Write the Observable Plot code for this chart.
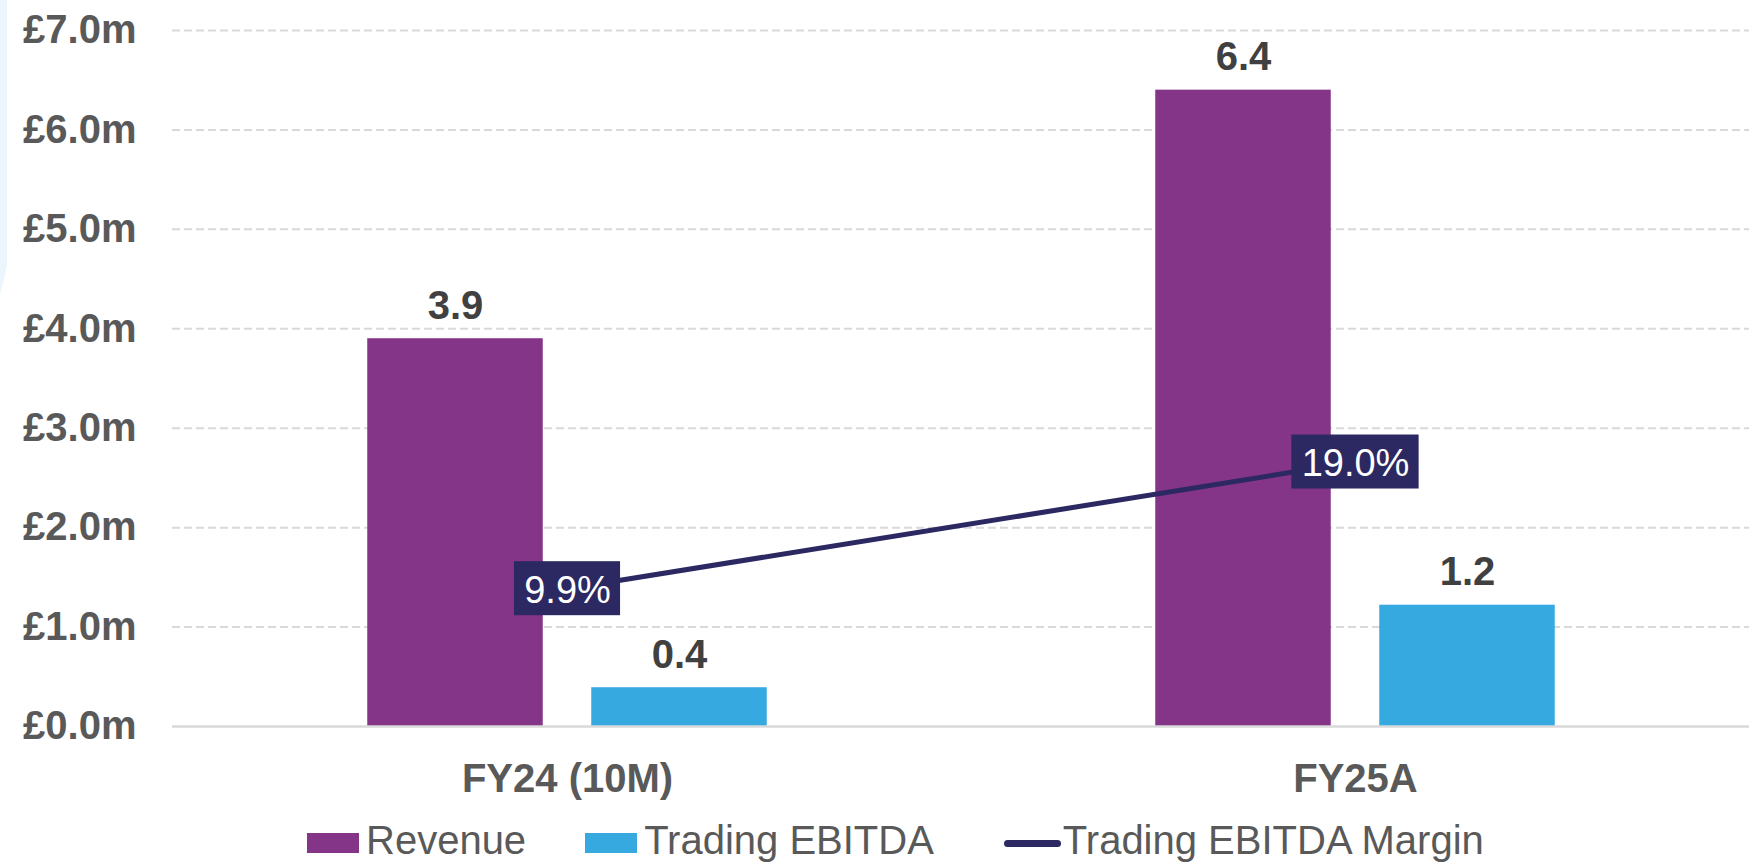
<!DOCTYPE html>
<html>
<head>
<meta charset="utf-8">
<script src="https://cdn.jsdelivr.net/npm/d3@7"></script>
<script src="https://cdn.jsdelivr.net/npm/@observablehq/plot@0.6"></script>
<style>
  html, body { margin: 0; padding: 0; background: #fff; }
  body { width: 1749px; height: 864px; overflow: hidden; position: relative; font-family: "Liberation Sans", Arial, sans-serif; }
  #deco { position: absolute; left: 0; top: 0; width: 7px; height: 295px; background: #EAF6FC; clip-path: polygon(0 0, 100% 0, 100% 90%, 0 100%); z-index: 2; }
  #chart { position: absolute; left: 0; top: 0; }
  #legend { position: absolute; left: 307px; top: 810px; height: 66px; display: flex; align-items: center; color: #595959; font-size: 40px; line-height: 1; white-space: nowrap; }
  .sw { width: 52px; height: 20px; margin-right: 7px; }
  .ln { width: 57px; height: 7px; border-radius: 4px; margin-right: 2px; }
  .lab { position: relative; top: -3px; }
</style>
</head>
<body>
<div id="deco"></div>
<div id="chart"></div>
<div id="legend"></div>
<script>
// ---- data ----
const categories = ["FY24 (10M)", "FY25A"];
const revenue = [3.9, 6.4];
const tradingEbitda = [0.39, 1.22];
const ebitdaMargin = [9.9, 19.0];          // percent, secondary axis
const yTicks = [0, 1, 2, 3, 4, 5, 6, 7];
const secondaryMax = 50;                   // hidden secondary axis 0%–50%
const seriesNames = ["Revenue", "Trading EBITDA", "Trading EBITDA Margin"];
const colors = {rev: "#843587", ebitda: "#36A9E1", margin: "#2B2862"};

// ---- layout ----
const W = 1749, H = 810, mL = 172, mR = 0, mT = 30, mB = 84;
const band = (W - mL - mR) / categories.length;
const barW = 176, gap = 48;
const c = band / 2;
const primaryMax = 7;

const revRows = categories.map((k, i) => ({category: k, value: revenue[i]}));
const ebRows = categories.map((k, i) => ({category: k, value: tradingEbitda[i]}));
const mRows = categories.map((k, i) => ({category: k, margin: ebitdaMargin[i], v: ebitdaMargin[i] * primaryMax / secondaryMax}));

const fmt1 = d3.format(".1f");
const labelFont = "38px 'Liberation Sans', Arial, sans-serif";
const ctx = document.createElement("canvas").getContext("2d");
ctx.font = labelFont;

const boxMarks = mRows.map(r => {
  const t = fmt1(r.margin) + "%";
  const bw = ctx.measureText(t).width + 20;
  const ins = (band - bw) / 2;
  return Plot.barY([r], {x: "category", y1: "v", y2: "v", insetTop: -27, insetBottom: -27,
    insetLeft: ins, insetRight: ins, fill: colors.margin});
});

const chart = Plot.plot({
  width: W, height: H,
  marginLeft: mL, marginRight: mR, marginTop: mT, marginBottom: mB,
  style: {fontFamily: "'Liberation Sans', Arial, sans-serif", background: "transparent", overflow: "visible"},
  x: {type: "band", domain: categories, padding: 0, label: null},
  y: {domain: [0, primaryMax], label: null},
  marks: [
    Plot.ruleY(yTicks.filter(d => d > 0), {stroke: "#D9D9D9", strokeWidth: 2, strokeDasharray: "8,4"}),
    Plot.barY(revRows, {x: "category", y: "value", fill: colors.rev,
      insetLeft: c - gap / 2 - barW, insetRight: c + gap / 2}),
    Plot.barY(ebRows, {x: "category", y: "value", fill: colors.ebitda,
      insetLeft: c + gap / 2, insetRight: band - (c + gap / 2 + barW)}),
    Plot.ruleY([0], {stroke: "#D9D9D9", strokeWidth: 2.5}),
    Plot.text(revRows, {x: "category", y: "value", text: d => fmt1(d.value), dx: -(gap / 2 + barW / 2), dy: -20,
      lineAnchor: "bottom", fontSize: 40, fontWeight: "bold", fill: "#404040"}),
    Plot.text(ebRows, {x: "category", y: "value", text: d => fmt1(d.value), dx: (gap / 2 + barW / 2), dy: -20,
      lineAnchor: "bottom", fontSize: 40, fontWeight: "bold", fill: "#404040"}),
    Plot.line(mRows, {x: "category", y: "v", stroke: colors.margin, strokeWidth: 5}),
    ...boxMarks,
    Plot.text(mRows, {x: "category", y: "v", text: d => fmt1(d.margin) + "%", dy: 2,
      fontSize: 38, fill: "#FFFFFF"}),
    Plot.axisY({ticks: yTicks, tickFormat: d => `£${d.toFixed(1)}m`, tickSize: 0, tickPadding: 36,
      fontSize: 40, fontWeight: "bold", color: "#595959", label: null}),
    Plot.axisX({tickSize: 0, tickPadding: 37, fontSize: 40, fontWeight: "bold", color: "#595959", label: null})
  ]
});
document.getElementById("chart").appendChild(chart);

// ---- legend ----
const legend = document.getElementById("legend");
legend.innerHTML =
  `<div class="sw" style="background:${colors.rev}"></div><span class="lab" style="margin-right:59px">${seriesNames[0]}</span>` +
  `<div class="sw" style="background:${colors.ebitda}"></div><span class="lab" style="margin-right:70px">${seriesNames[1]}</span>` +
  `<div class="ln" style="background:${colors.margin}"></div><span class="lab">${seriesNames[2]}</span>`;
</script>
</body>
</html>
